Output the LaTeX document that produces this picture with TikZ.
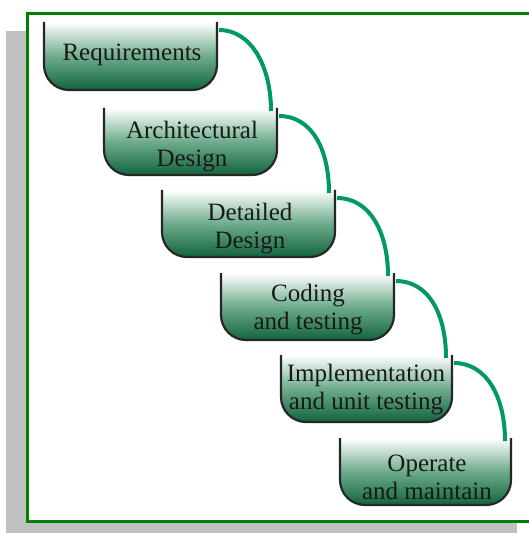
\documentclass[tikz,border=0pt]{standalone}
\usepackage{fontspec}
\setmainfont{Liberation Serif}
\definecolor{framegreen}{RGB}{0,128,0}
\definecolor{shadowgray}{RGB}{192,192,192}
\definecolor{linkgreen}{RGB}{0,152,102}
\definecolor{deepgreen}{RGB}{18,100,62}
\definecolor{midgreen}{RGB}{110,172,140}
\begin{document}
\begin{tikzpicture}[x=1pt,y=-1pt,
  stagetext/.style={font=\fontsize{25}{28}\selectfont, align=center, inner sep=0pt, text=black!90},
  link/.style={draw=linkgreen, line width=4pt},
  cupline/.style={draw=black!85, line width=2.2pt, rounded corners=25pt},
  cupfill/.style={top color=white, bottom color=deepgreen, middle color=midgreen, rounded corners=25pt}]
  \useasboundingbox (0,0) rectangle (528,534);
  % drop shadow and framed panel
  \fill[shadowgray] (6,31) rectangle (517,533);
  \filldraw[fill=white, draw=framegreen, line width=3pt] (27,13.5) rectangle (545,521);

  % one open-topped stage cup: name, left, top, right, bottom
  \newcommand\stagecup[5]{%
    \shade[cupfill] (#2,#3) -- (#2,#5) -- (#4,#5) -- (#4,#3);
    \draw[cupline] (#2,#3) -- (#2,#5) -- (#4,#5) -- (#4,#3);
    \coordinate (#1-out) at (#4+2,#3+8);
    \coordinate (#1-in) at (#4-6,#3+3);
  }
  \stagecup{s1}{44}{22}{217}{90}
  \stagecup{s2}{104}{108}{277}{175}
  \stagecup{s3}{162}{190}{335}{257}
  \stagecup{s4}{221}{273}{394}{340}
  \stagecup{s5}{281}{355}{452}{422}
  \stagecup{s6}{340}{438}{511}{505}

  \node[stagetext] (t1) at (132,55) {Requirements};
  \node[stagetext] (t2) at (192,147) {Architectural\\Design};
  \node[stagetext] (t3) at (250,229) {Detailed\\Design};
  \node[stagetext] (t4) at (308,310) {Coding\\and testing};
  \node[stagetext] (t5) at (366,390) {Implementation\\and unit testing};
  \node[stagetext] (t6) at (427,477) {Operate\\and maintain};

  % cascading links between consecutive stages
  \foreach \a/\b in {s1/s2,s2/s3,s3/s4,s4/s5,s5/s6}
    \draw[link] (\a-out) .. controls +(32,0) and +(0,-45) .. (\b-in);
\end{tikzpicture}
\end{document}
